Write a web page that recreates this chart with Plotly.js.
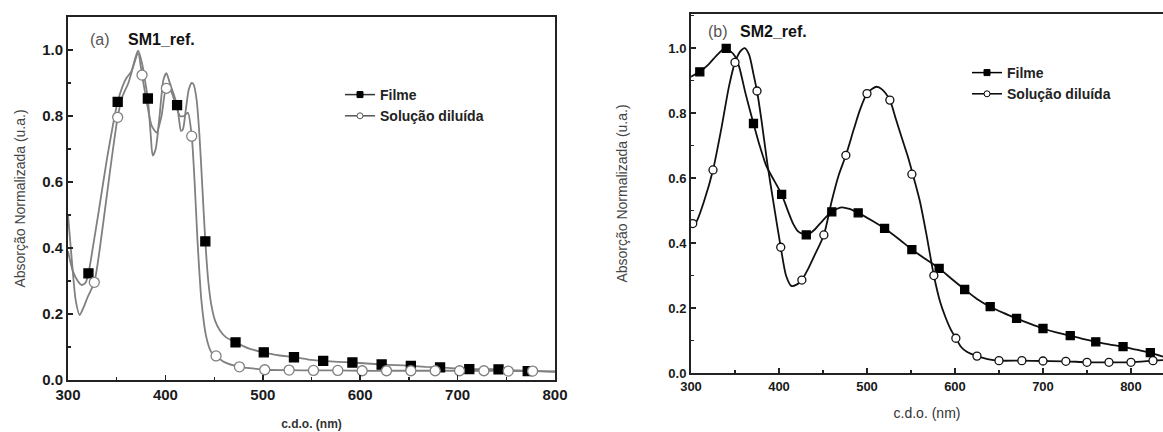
<!DOCTYPE html>
<html>
<head>
<meta charset="utf-8">
<script src="https://cdn.plot.ly/plotly-3.0.1.min.js"></script>
<style>html,body{margin:0;padding:0;background:#fff;}#chart{width:1163px;height:432px;}</style>
</head>
<body>
<div id="chart"></div>
<script>
// ---------- Panel (a) SM1_ref. ----------
var a_filme_x = [300,305,310,314,318,321,326,332,340,346,351,356,360,365,369,372,376,380,382,385,387,390,394,398,401,404,408,412,414,416,418,421,424,427,429,432,435,438,441,444,447,451,456,462,472,486,501,516,532,547,562,577,592,607,622,637,652,667,682,697,712,727,742,757,772,786,800];
var a_filme_y = [0.39,0.33,0.30,0.288,0.295,0.323,0.41,0.52,0.67,0.77,0.843,0.89,0.915,0.935,0.975,0.998,0.96,0.89,0.853,0.74,0.68,0.70,0.80,0.91,0.93,0.905,0.87,0.833,0.79,0.755,0.76,0.82,0.88,0.90,0.895,0.85,0.74,0.58,0.42,0.30,0.23,0.18,0.15,0.13,0.114,0.095,0.084,0.075,0.069,0.062,0.058,0.055,0.053,0.05,0.047,0.045,0.043,0.04,0.038,0.035,0.033,0.033,0.032,0.03,0.027,0.027,0.026];
var a_sol_x = [300,304,308,312,316,320,327,335,343,351,356,362,367,372,376,381,386,391,396,401,405,410,415,419,423,427,430,433,437,442,447,452,460,476,490,502,527,552,577,602,627,652,677,702,727,752,777,800];
var a_sol_y = [0.50,0.36,0.24,0.197,0.22,0.25,0.296,0.45,0.63,0.796,0.86,0.90,0.95,0.99,0.924,0.84,0.77,0.75,0.80,0.884,0.88,0.84,0.80,0.80,0.81,0.739,0.60,0.42,0.24,0.13,0.085,0.073,0.055,0.04,0.035,0.031,0.03,0.029,0.029,0.028,0.028,0.028,0.028,0.028,0.028,0.027,0.027,0.025];
var a_filme_mx = [321,351,382,412,441,472,501,532,562,592,622,652,682,712,742,772];
var a_filme_my = [0.323,0.843,0.853,0.833,0.42,0.114,0.084,0.069,0.058,0.053,0.047,0.043,0.038,0.033,0.032,0.027];
var a_sol_mx = [327,351,376,401,427,452,476,502,527,552,577,602,627,652,677,702,727,752,777];
var a_sol_my = [0.296,0.796,0.924,0.884,0.739,0.073,0.04,0.031,0.03,0.029,0.029,0.028,0.028,0.028,0.028,0.028,0.028,0.027,0.027];

// ---------- Panel (b) SM2_ref. ----------
var b_filme_x = [300,310,320,330,338,345,350,355,362,371,378,386,395,403,410,416,422,427,432,440,450,460,471,480,490,505,520,535,551,567,582,596,611,625,640,655,670,685,700,715,731,745,760,775,791,806,822,837];
var b_filme_y = [0.912,0.927,0.95,0.98,0.998,0.99,0.975,0.94,0.86,0.768,0.70,0.635,0.59,0.55,0.50,0.46,0.435,0.428,0.425,0.44,0.47,0.496,0.51,0.505,0.493,0.47,0.445,0.415,0.38,0.35,0.322,0.29,0.257,0.228,0.204,0.185,0.168,0.152,0.137,0.125,0.115,0.105,0.096,0.088,0.081,0.072,0.063,0.05];
var b_sol_x = [300,303,307,315,325,335,343,350,356,361,366,371,375,380,387,394,402,408,414,420,426,433,440,451,460,468,476,485,492,500,506,511,517,526,533,540,546,552,560,568,576,583,589,595,601,607,613,625,637,650,676,700,726,750,775,800,825,837];
var b_sol_y = [0.46,0.455,0.47,0.53,0.625,0.76,0.88,0.956,0.99,1.0,0.98,0.92,0.868,0.78,0.64,0.52,0.387,0.30,0.268,0.272,0.286,0.32,0.36,0.425,0.53,0.61,0.67,0.75,0.81,0.86,0.875,0.881,0.873,0.84,0.78,0.72,0.67,0.612,0.53,0.42,0.30,0.22,0.173,0.135,0.107,0.08,0.066,0.052,0.043,0.038,0.038,0.037,0.036,0.033,0.033,0.033,0.038,0.04];
var b_filme_mx = [310,340,371,403,431,460,490,520,551,582,611,640,670,700,731,760,791,822];
var b_filme_my = [0.927,0.999,0.768,0.55,0.425,0.496,0.493,0.445,0.38,0.322,0.257,0.204,0.168,0.137,0.115,0.096,0.081,0.063];
var b_sol_mx = [302,325,350,375,402,426,451,476,500,526,551,576,601,625,650,676,700,726,750,775,800,825];
var b_sol_my = [0.46,0.625,0.956,0.868,0.387,0.286,0.425,0.67,0.86,0.84,0.612,0.30,0.107,0.052,0.038,0.038,0.037,0.036,0.033,0.033,0.033,0.038];

var seriesNames = ["Filme", "Solução diluída"];
var panelLabels = ["(a)", "SM1_ref.", "(b)", "SM2_ref."];
var axisTitleY = "Absorção Normalizada (u.a.)";
var axisTitleX = "c.d.o. (nm)";

var grayA = "#808080";
var blackB = "#111111";
var FONT = "Liberation Sans, Arial, sans-serif";

function lineTrace(x, y, color, xa, ya) {
  return {x: x, y: y, xaxis: xa, yaxis: ya, mode: "lines", type: "scatter",
    line: {color: color, width: 1.8, shape: "spline", smoothing: 0.7},
    showlegend: false, hoverinfo: "skip"};
}
function markerTrace(x, y, sym, fill, edge, size, xa, ya) {
  return {x: x, y: y, xaxis: xa, yaxis: ya, mode: "markers", type: "scatter",
    marker: {symbol: sym, color: fill, size: size, line: {color: edge, width: 1.3}},
    showlegend: false};
}
function legendTrace(name, sym, fill, edge, lineColor, size, xa, ya, leg) {
  return {x: [null], y: [null], xaxis: xa, yaxis: ya, mode: "lines+markers", type: "scatter",
    name: name, legend: leg,
    line: {color: lineColor, width: 1.5},
    marker: {symbol: sym, color: fill, size: size, line: {color: edge, width: 1}}};
}

var data = [
  lineTrace(a_filme_x, a_filme_y, grayA, "x", "y"),
  lineTrace(a_sol_x, a_sol_y, grayA, "x", "y"),
  markerTrace(a_filme_mx, a_filme_my, "square", "#000", "#000", 9, "x", "y"),
  markerTrace(a_sol_mx, a_sol_my, "circle", "#fff", grayA, 10, "x", "y"),
  legendTrace(seriesNames[0], "square", "#000", "#000", "#333", 6, "x", "y", "legend"),
  legendTrace(seriesNames[1], "circle", "#fff", "#555", "#555", 6, "x", "y", "legend"),
  lineTrace(b_filme_x, b_filme_y, blackB, "x2", "y2"),
  lineTrace(b_sol_x, b_sol_y, blackB, "x2", "y2"),
  markerTrace(b_filme_mx, b_filme_my, "square", "#000", "#000", 8, "x2", "y2"),
  markerTrace(b_sol_mx, b_sol_my, "circle", "#fff", blackB, 8, "x2", "y2"),
  legendTrace(seriesNames[0], "square", "#000", "#000", "#000", 6, "x2", "y2", "legend2"),
  legendTrace(seriesNames[1], "circle", "#fff", "#000", "#000", 6, "x2", "y2", "legend2")
];

var W = 1163, H = 432;
function px(x) { return x / W; }
function py(y) { return (H - y) / H; }

function xaxisCfg(range, domain, fsize, fweight, tsize, tweight, standoff) {
  return {domain: domain, range: range, dtick: 100, tick0: 300, ticks: "inside", ticklen: 5, tickwidth: 1.5,
    tickcolor: "#222", showline: true, linecolor: "#222", linewidth: 2, mirror: true,
    showgrid: false, zeroline: false, automargin: false,
    minor: {dtick: 50, ticks: "inside", ticklen: 3, tickwidth: 1.2, tickcolor: "#222", showgrid: false},
    tickfont: {family: FONT, size: tsize, color: "#1a1a1a", weight: tweight},
    title: {text: axisTitleX, standoff: standoff, font: {family: FONT, size: fsize, color: "#333", weight: fweight}}};
}
function yaxisCfg(range, domain, mirror, tsize, standoff) {
  return {domain: domain, range: range, dtick: 0.2, tick0: 0, tickformat: ".1f", ticks: "inside", ticklen: 5, tickwidth: 1.5,
    tickcolor: "#222", showline: true, linecolor: "#222", linewidth: 2, mirror: mirror,
    showgrid: false, zeroline: false, automargin: false,
    minor: {dtick: 0.1, ticks: "inside", ticklen: 3, tickwidth: 1.2, tickcolor: "#222", showgrid: false},
    tickfont: {family: FONT, size: tsize, color: "#1a1a1a", weight: "bold"},
    title: {text: axisTitleY, standoff: standoff, font: {family: FONT, size: 14, color: "#444"}}};
}

var layout = {
  width: W, height: H,
  margin: {l: 0, r: 0, t: 0, b: 0},
  paper_bgcolor: "#fff", plot_bgcolor: "#fff",
  font: {family: FONT},
  xaxis: xaxisCfg([300, 800], [px(68), px(555)], 12, "bold", 15, "bold", 18),
  yaxis: yaxisCfg([0, 1.1], [py(380), py(17)], true, 15, 13),
  xaxis2: Object.assign(xaxisCfg([300, 836.4], [px(691), 1], 14, "normal", 13, "bold", 16), {anchor: "y2"}),
  yaxis2: Object.assign(yaxisCfg([0, 1.105], [py(373), py(14)], false, 13, 37), {anchor: "x2"}),
  legend: {x: px(340), y: py(79), xanchor: "left", yanchor: "top", bgcolor: "rgba(0,0,0,0)",
    font: {family: FONT, size: 14, color: "#222", weight: "bold"}, tracegroupgap: 0},
  legend2: {x: px(967), y: py(57), xanchor: "left", yanchor: "top", bgcolor: "rgba(0,0,0,0)",
    font: {family: FONT, size: 14, color: "#222", weight: "bold"}, tracegroupgap: 0},
  annotations: [
    {xref: "paper", yref: "paper", x: px(88), y: py(40), xanchor: "left", yanchor: "middle", showarrow: false,
      text: panelLabels[0], font: {family: FONT, size: 16, color: "#555"}},
    {xref: "paper", yref: "paper", x: px(126), y: py(40), xanchor: "left", yanchor: "middle", showarrow: false,
      text: "<b>" + panelLabels[1] + "</b>", font: {family: FONT, size: 16, color: "#111"}},
    {xref: "paper", yref: "paper", x: px(706), y: py(31), xanchor: "left", yanchor: "middle", showarrow: false,
      text: panelLabels[2], font: {family: FONT, size: 16, color: "#555"}},
    {xref: "paper", yref: "paper", x: px(738), y: py(31), xanchor: "left", yanchor: "middle", showarrow: false,
      text: "<b>" + panelLabels[3] + "</b>", font: {family: FONT, size: 16, color: "#111"}}
  ]
};

Plotly.newPlot("chart", data, layout, {displayModeBar: false, staticPlot: true});
</script>
</body>
</html>
